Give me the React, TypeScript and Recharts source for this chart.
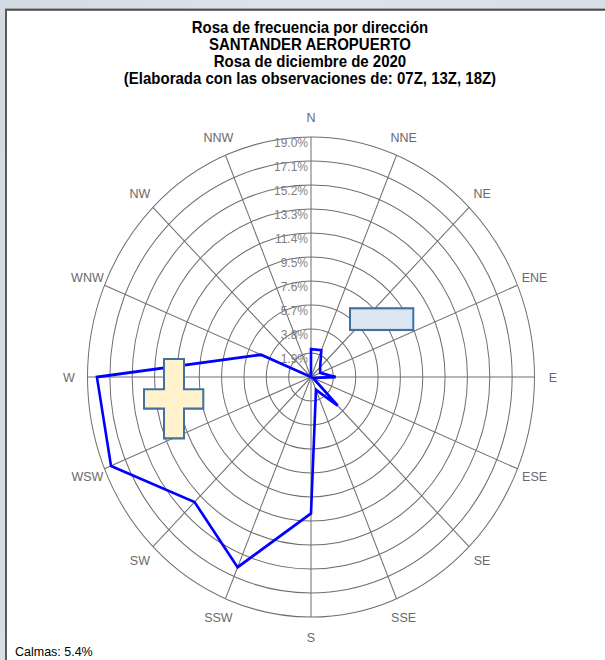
import React from 'react';
import { RadarChart, Radar, PolarGrid, PolarAngleAxis, PolarRadiusAxis } from 'recharts';

// ---- data ----
const directions = ['N', 'NNE', 'NE', 'ENE', 'E', 'ESE', 'SE', 'SSE', 'S', 'SSW', 'SW', 'WSW', 'W', 'WNW', 'NW', 'NNW'];
const frequencies = [2.2, 2.3, 1.1, 0.85, 2.1, 0.2, 3.2, 1.1, 10.8, 16.3, 14.0, 18.4, 18.2, 4.6, 0, 0];
const radiusTicks = [1.9, 3.8, 5.7, 7.6, 9.5, 11.4, 13.3, 15.2, 17.1, 19.0];
const titleLines = [
  'Rosa de frecuencia por dirección',
  'SANTANDER AEROPUERTO',
  'Rosa de diciembre de 2020',
  '(Elaborada con las observaciones de: 07Z, 13Z, 18Z)',
];
const calmasLabel = 'Calmas: 5.4%';

const chartData = directions.map((d, i) => ({ dir: d, value: frequencies[i] }));

// ---- layout ----
const STRETCH = 1.0738; // reference image is stretched vertically
const W = 605;
const H = 660 / STRETCH;
const CX = 311;
const CY = 351.1;
const R = 223.5;
const LABEL_R = 242;
const FONT = '"Liberation Sans", Arial, sans-serif';

const AngleTick = (props: any) => {
  const a = (props.payload.coordinate * Math.PI) / 180;
  const x = CX + LABEL_R * Math.cos(a);
  const y = CY - LABEL_R * Math.sin(a);
  return (
    <text x={x} y={y} textAnchor="middle" dominantBaseline="central" fontSize={12.5} fill="#6a6a6a" fontFamily={FONT}>
      {props.payload.value}
    </text>
  );
};

const RadiusTick = (props: any) => {
  const v = Number(props.payload.value);
  return (
    <text x={props.x - 3} y={props.y + 9} textAnchor="end" fontSize={12} fill="#808080" fontFamily={FONT}>
      {v.toFixed(1) + '%'}
    </text>
  );
};

export default function App() {
  return (
    <div style={{ position: 'absolute', left: 0, top: 0, width: 605, height: 660, overflow: 'hidden', background: 'linear-gradient(100deg, #d3dae4 0%, #dde3eb 40%, #d6dde7 100%)' }}>
      <div style={{ position: 'absolute', left: 0, top: 0, width: W, height: H, transform: `scaleY(${STRETCH})`, transformOrigin: '0 0' }}>
        <div style={{ position: 'absolute', left: 5, top: 8.2, width: 610, height: 700, background: '#ffffff', borderTop: '2px solid #4a4a4a', borderLeft: '2px solid #5a5a5a', boxSizing: 'border-box' }} />
        <div style={{ position: 'absolute', left: 0, top: 0 }}>
          <RadarChart width={W} height={H} cx={CX} cy={CY} outerRadius={R} data={chartData} margin={{ top: 0, right: 0, bottom: 0, left: 0 }}>
            <PolarGrid gridType="circle" stroke="#6e6e6e" strokeWidth={1} />
            <PolarAngleAxis dataKey="dir" tick={AngleTick} tickLine={false} axisLine={false} />
            <PolarRadiusAxis angle={90} domain={[0, 19]} ticks={radiusTicks} tick={RadiusTick} axisLine={false} tickLine={false} />
            <Radar dataKey="value" stroke="#0000ff" strokeWidth={2.6} fill="none" fillOpacity={0} dot={false} isAnimationActive={false} strokeLinejoin="miter" />
          </RadarChart>
        </div>
        <svg width={W} height={H} style={{ position: 'absolute', left: 0, top: 0 }}>
          {titleLines.map((t, i) => (
            <text key={i} x={310} y={25 + i * 16.1} textAnchor="middle" dominantBaseline="central" fontSize={15} fontWeight="bold" fill="#000" fontFamily={FONT}>
              {t}
            </text>
          ))}
          <text x={15} y={607} dominantBaseline="central" fontSize={12.5} fill="#000" fontFamily={FONT}>
            {calmasLabel}
          </text>
          <rect x={350} y={287.1} width={63.3} height={20.2} fill="#dce6f2" stroke="#41719c" strokeWidth={2} />
          <path d="M164 334.3 H184 V362.5 H203.3 V380.6 H184 V408.2 H164 V380.6 H144 V362.5 H164 Z" fill="#fff2cc" stroke="#41719c" strokeWidth={2} />
        </svg>
      </div>
    </div>
  );
}
